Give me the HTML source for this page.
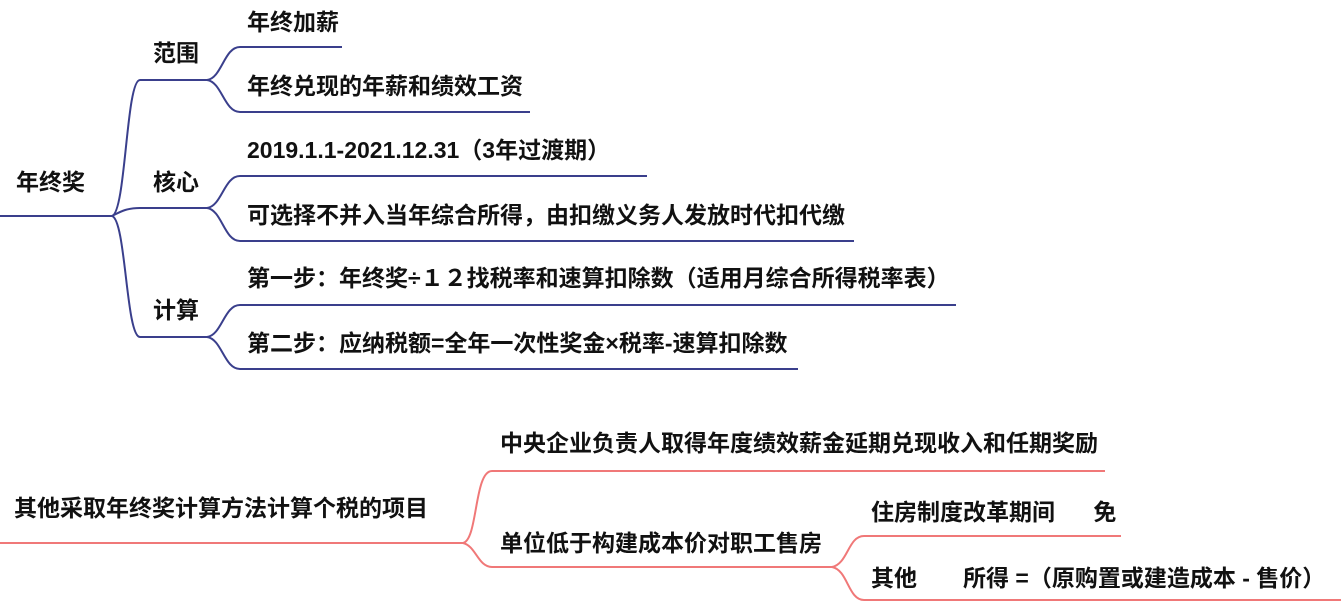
<!DOCTYPE html>
<html><head><meta charset="utf-8"><style>
html,body{margin:0;padding:0;background:#fff;}
body{width:1341px;height:615px;position:relative;overflow:hidden;font-family:"Liberation Sans","Noto Sans CJK SC",sans-serif;font-weight:bold;color:#111;}
.t{position:absolute;font-size:23px;line-height:28px;white-space:pre;}
svg{position:absolute;left:0;top:0;}
</style></head><body>
<svg width="1341" height="615" fill="none">
<g stroke="#3a3f8c" stroke-width="2">
<path d="M0 216 H112"/>
<path d="M112 216 C126 212,126 80,140 80 H207"/>
<path d="M112 216 C120 212,126 208,140 208 H207"/>
<path d="M112 216 C126 220,126 337,140 337 H207"/>
<path d="M207 80 C222 78,224 47,240 47 H342"/>
<path d="M207 80 C222 82,224 112,240 112 H530"/>
<path d="M207 208 C222 206,224 176,240 176 H647"/>
<path d="M207 208 C222 210,224 241,240 241 H854"/>
<path d="M207 337 C222 335,224 305,240 305 H956"/>
<path d="M207 337 C222 339,224 369,240 369 H798"/>
</g>
<g stroke="#f07878" stroke-width="2">
<path d="M0 543 H463"/>
<path d="M463 543 C478 540,474 471,492 471 H1105"/>
<path d="M463 543 C476 546,478 567,492 567 H832"/>
<path d="M832 567 C848 564,848 536,864 536 H1121"/>
<path d="M832 567 C848 570,848 600,864 600 H1341"/>
</g>
</svg>
<div class="t" style="left:16px;top:168px">年终奖</div>
<div class="t" style="left:153px;top:39px">范围</div>
<div class="t" style="left:153px;top:168px">核心</div>
<div class="t" style="left:153px;top:296px">计算</div>
<div class="t" style="left:247px;top:8px">年终加薪</div>
<div class="t" style="left:247px;top:72px">年终兑现的年薪和绩效工资</div>
<div class="t" style="left:247px;top:136px">2019.1.1-2021.12.31（3年过渡期）</div>
<div class="t" style="left:247px;top:201px">可选择不并入当年综合所得，由扣缴义务人发放时代扣代缴</div>
<div class="t" style="left:247px;top:264px">第一步：年终奖÷１２找税率和速算扣除数（适用月综合所得税率表）</div>
<div class="t" style="left:247px;top:329px">第二步：应纳税额=全年一次性奖金×税率-速算扣除数</div>
<div class="t" style="left:14px;top:494px">其他采取年终奖计算方法计算个税的项目</div>
<div class="t" style="left:500px;top:429px">中央企业负责人取得年度绩效薪金延期兑现收入和任期奖励</div>
<div class="t" style="left:500px;top:529px">单位低于构建成本价对职工售房</div>
<div class="t" style="left:871px;top:498px">住房制度改革期间      免</div>
<div class="t" style="left:871px;top:564px">其他</div>
<div class="t" style="left:963px;top:564px">所得 =（原购置或建造成本 - 售价）</div>
</body></html>
